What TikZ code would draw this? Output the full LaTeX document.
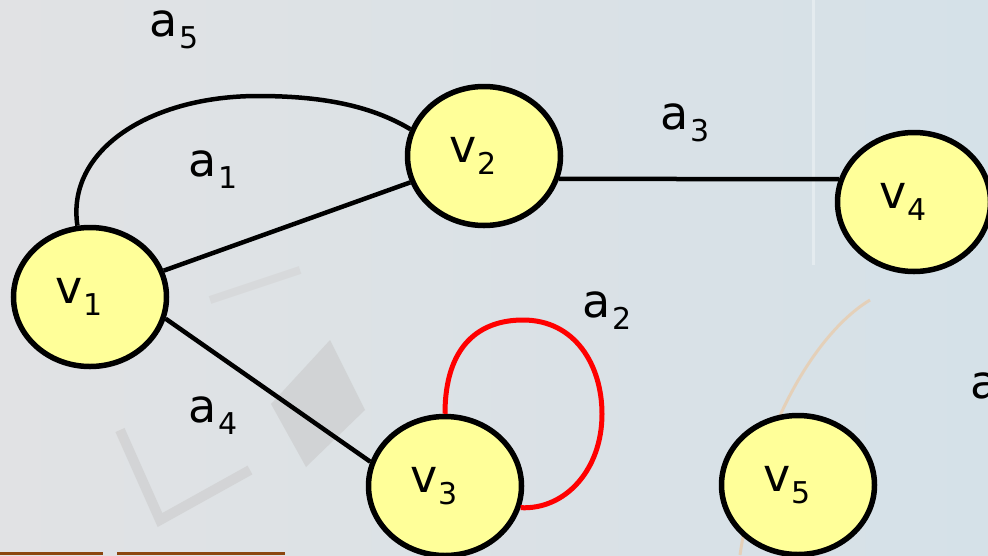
\documentclass[tikz,border=0pt]{standalone}
\usepackage{fontspec}
\setmainfont{DejaVu Sans}
\usetikzlibrary{shapes.geometric}
% letter with a lowered index
\newcommand\idxlbl[2]{#1\kern1pt\raisebox{-12pt}{\fontsize{30}{30}\selectfont #2}}
% vertex text sits a little left of the vertex centre
\newcommand\vtxlbl[2]{\idxlbl{#1}{#2}\kern22pt}
\definecolor{vfill}{RGB}{255,255,153}
\definecolor{bgleft}{RGB}{225,226,228}
\definecolor{bgright}{RGB}{213,225,232}
\definecolor{barbrown}{RGB}{140,70,15}
\begin{document}
\begin{tikzpicture}[x=1pt,y=-1pt,
  vertex/.style={ellipse,draw=black,line width=5.5pt,fill=vfill,
    minimum width=153pt,minimum height=139pt,inner sep=0pt,
    font=\fontsize{46}{50}\selectfont},
  edgelbl/.style={inner sep=0pt,font=\fontsize{46}{50}\selectfont},
  edge/.style={line width=4.5pt,black},
  loopedge/.style={line width=5pt,red}]
\useasboundingbox (0,0) rectangle (988,555);
% faded backdrop
\shade[left color=bgleft,right color=bgright] (0,0) rectangle (988,555);
\fill[gray!45,opacity=0.5] (271,404) -- (330,340) -- (365,410) -- (306,467) -- cycle;
\draw[gray!40,line width=10pt,opacity=0.6] (120,430) -- (160,520) -- (250,470);
\draw[gray!35,line width=8pt,opacity=0.5] (210,300) -- (300,270);
\draw[white,line width=3pt,opacity=0.35] (813,0) -- (813,265);
\draw[orange!60,line width=3pt,opacity=0.35] (740,555) .. controls (760,420) and (820,330) .. (870,300);
\fill[barbrown] (0,552) rectangle (103,555);
\fill[barbrown] (117,552) rectangle (285,555);

% vertices
\node[vertex] (v1) at (90,297) {\vtxlbl{v}{1}};
\node[vertex] (v2) at (484,156) {\vtxlbl{v}{2}};
\node[vertex] (v3) at (445,486) {\vtxlbl{v}{3}};
\node[vertex] (v4) at (914,202) {\vtxlbl{v}{4}};
\node[vertex] (v5) at (798,485) {\vtxlbl{v}{5}};

% edges
\draw[edge] (v1) -- (v2);
\draw[edge] (v2.-17) -- (v4.163);
\draw[edge] (v1.-16) -- (v3.162);
\draw[edge] (v1.100) .. controls (66,150) and (150,96) .. (258,96)
  .. controls (320,96) and (370,105) .. (v2.160);
\draw[loopedge] (v3.north) .. controls (445,345) and (480,320) .. (523,320)
  .. controls (575,320) and (602,365) .. (602,414)
  .. controls (602,470) and (565,510) .. (v3.-16);

% edge labels
\node[edgelbl] (la5) at (174,30) {\idxlbl{a}{5}};
\node[edgelbl] (la1) at (213,170) {\idxlbl{a}{1}};
\node[edgelbl] (la3) at (685,123) {\idxlbl{a}{3}};
\node[edgelbl] (la2) at (607,311) {\idxlbl{a}{2}};
\node[edgelbl] (la4) at (213,416) {\idxlbl{a}{4}};
\node[edgelbl,anchor=base west] (la6) at (970,398) {a};
\end{tikzpicture}
\end{document}
